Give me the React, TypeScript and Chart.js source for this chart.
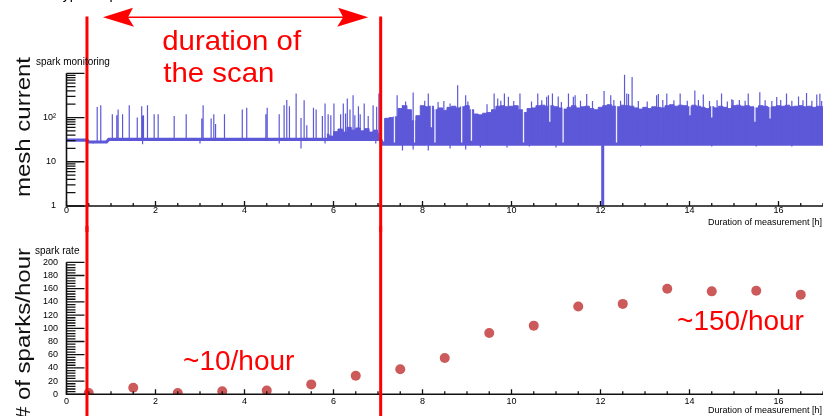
import { useEffect, useRef } from 'react';
import { Chart, registerables } from 'chart.js';

Chart.register(...registerables);

const FONT = '"Liberation Sans", Arial, Helvetica, sans-serif';
const TRACE_BLUE = 'rgb(92,88,216)';
const RATE_RED = 'rgb(204,90,90)';
const MARK_RED = '#ff0000';

// Shared time axis (hours)
const timeMin = 0;
const timeMax = 17;
const timeTicks = [0, 2, 4, 6, 8, 10, 12, 14, 16];
const timeTickLabels = ['0', '2', '4', '6', '8', '10', '12', '14', '16'];
const timeTitle = 'Duration of measurement [h]';

// Mesh current axis (log)
const currentTicks = [1, 10, 100];
const currentTickLabels = ['1', '10', '10²'];

// Spark rate axis
const rateTicks = [0, 20, 40, 60, 80, 100, 120, 140, 160, 180, 200];
const rateTickLabels = ['0', '20', '40', '60', '80', '100', '120', '140', '160', '180', '200'];

// Scan window (hours)
const scanStart = 0.46;
const scanEnd = 7.06;

// Spark rate, one point per hour
const rateHours = [0.5, 1.5, 2.5, 3.5, 4.5, 5.5, 6.5, 7.5, 8.5, 9.5, 10.5, 11.5, 12.5, 13.5, 14.5, 15.5, 16.5];
const rateValues = [2, 10, 2, 4.5, 5.6, 15, 28, 38, 55, 93, 104, 133, 137, 160, 156, 157, 151];

// Mesh current resting level
const baseTimes = [0, 0.46, 0.5, 0.9, 0.95, 7.06, 7.1, 17];
const baseValues = [31, 31, 28, 28, 32, 32, 25, 25];

// Sparks during the scan: [hour, peak current]
const scanSpikes = [
  [0.69, 174], [0.77, 190], [1.03, 118], [1.13, 113], [1.16, 152], [1.26, 118], [1.41, 190],
  [1.59, 100], [1.69, 180], [1.7, 105], [1.71, 110], [1.72, 104], [1.73, 113], [1.82, 190],
  [1.97, 118], [2.06, 118], [2.42, 108], [2.69, 118], [3.04, 95], [3.07, 190], [3.25, 95],
  [3.31, 118], [3.35, 71], [3.55, 118], [3.95, 152], [4.05, 166], [4.48, 118], [4.51, 166],
  [4.78, 118], [4.89, 190], [4.95, 250], [5.01, 180], [5.16, 350], [5.27, 98], [5.34, 246],
  [5.4, 67], [5.55, 166], [5.61, 152], [5.75, 108], [5.81, 208], [5.88, 118], [5.94, 113],
  [6.01, 208], [6.16, 118], [6.22, 208], [6.27, 124], [6.31, 270], [6.37, 152], [6.44, 318],
  [6.48, 113], [6.56, 180], [6.6, 118], [6.69, 208], [6.78, 108], [6.89, 190], [6.97, 175],
  [7.02, 350],
];
const scanDips = [[0.6, 26], [1.71, 25], [3.0, 26], [4.78, 26], [5.27, 20], [5.81, 26], [6.95, 26]];

// Dense spark cluster at the end of the scan
const scanClusterTimes = [5.85, 5.95, 6.05, 6.15, 6.25, 6.35, 6.45, 6.55, 6.65, 6.75, 6.85, 6.95, 7.03];
const scanClusterLevels = [42, 38, 48, 55, 47, 60, 52, 58, 50, 56, 47, 52, 44];

// After the scan: solid band level every 0.1 h from 7.1 h
const burstStart = 7.1;
const burstStep = 0.1;
const burstLevels = [
  28, 96, 100, 104, 160, 185, 150, 85, 110, 185,
  175, 180, 150, 165, 145, 170, 180, 165, 175, 185,
  150, 120, 115, 125, 130, 150, 180, 185, 175, 180,
  185, 150, 130, 160, 165, 185, 190, 180, 185, 175,
  165, 155, 170, 185, 165, 175, 180, 160, 150, 170,
  185, 195, 180, 175, 190, 185, 180, 165, 155, 170,
  160, 175, 170, 165, 185, 195, 180, 190, 185, 175,
  190, 180, 170, 160, 175, 165, 180, 170, 160, 185,
  190, 180, 185, 175, 165, 185, 180, 170, 175, 185,
  180, 190, 175, 180, 185, 175, 180, 170, 180, 175,
];
const burstSpikes = [
  [7.43, 318], [7.55, 190], [7.62, 230], [7.79, 370], [8.05, 240], [8.13, 350], [8.35, 225],
  [8.48, 235], [8.62, 208], [8.79, 537], [8.97, 318], [9.02, 230], [9.45, 200], [9.61, 350],
  [9.69, 270], [9.76, 240], [9.84, 350], [9.93, 295], [10.05, 235], [10.19, 350], [10.45, 230],
  [10.59, 350], [10.68, 245], [10.79, 294], [10.83, 318], [10.92, 350], [11.05, 300], [11.12, 225],
  [11.28, 350], [11.39, 295], [11.43, 320], [11.55, 240], [11.69, 340], [11.82, 235], [12.08, 400],
  [12.23, 320], [12.3, 250], [12.45, 240], [12.54, 930], [12.59, 350], [12.63, 340], [12.71, 820],
  [12.85, 235], [13.05, 230], [13.26, 318], [13.3, 340], [13.4, 250], [13.49, 350], [13.65, 245],
  [13.79, 350], [13.95, 240], [14.12, 410], [14.2, 250], [14.31, 330], [14.45, 235], [14.62, 245],
  [14.72, 350], [14.85, 230], [14.95, 260], [14.98, 250], [15.12, 250], [15.25, 240], [15.32, 350],
  [15.58, 375], [15.7, 245], [15.85, 235], [15.96, 290], [16.05, 250], [16.18, 350], [16.3, 240],
  [16.45, 300], [16.55, 245], [16.63, 360], [16.75, 240], [16.86, 330], [16.93, 345], [16.97, 235],
];
const burstDips = [
  [7.55, 18], [7.79, 19], [8.13, 18], [8.62, 20], [8.97, 19], [9.3, 21], [9.9, 21],
  [10.4, 22], [11.0, 21], [12.9, 22], [14.5, 22], [15.5, 22], [16.3, 22],
];
// Quiet moments inside the band: [hour, lowest current]
const burstGaps = [
  [7.37, 26], [7.82, 26], [8.2, 60], [8.28, 26], [8.88, 26], [9.1, 30], [10.27, 26],
  [10.86, 80], [11.16, 26], [12.36, 26], [14.01, 113], [14.5, 100], [15.47, 80], [15.81, 95],
];
// Supply drop-out
const dropTime = 12.05;
const dropValue = 1;

function baseAt(t: number) {
  let v = baseValues[0];
  for (let i = 0; i < baseTimes.length; i++) if (baseTimes[i] <= t) v = baseValues[i];
  return v;
}

function verticalSegments(list: number[][], from: (t: number) => number) {
  const pts: { x: number; y: number | null }[] = [];
  for (const [t, v] of list) {
    pts.push({ x: t, y: from(t) }, { x: t, y: v }, { x: t, y: null });
  }
  return pts;
}

type FrameOpts = {
  yMajor: number[];
  yLabels: string[];
  yMinor: number[];
  labelRight: number;
  xLabelOffset: number;
};

function drawFrame(chart: any, o: FrameOpts) {
  const { ctx, chartArea: a, scales } = chart;
  const xs = scales.x;
  const ys = scales.y;
  ctx.save();
  ctx.strokeStyle = '#111';
  ctx.lineWidth = 1.6;
  ctx.beginPath();
  ctx.moveTo(a.left, a.top);
  ctx.lineTo(a.left, a.bottom);
  ctx.lineTo(chart.width, a.bottom);
  ctx.stroke();

  ctx.lineWidth = 1.3;
  ctx.beginPath();
  for (let k = 0; k <= (timeMax - timeMin) * 2; k++) {
    const v = timeMin + k * 0.5;
    const px = xs.getPixelForValue(v);
    const len = timeTicks.includes(v) ? 5 : 3;
    ctx.moveTo(px, a.bottom);
    ctx.lineTo(px, a.bottom - len);
  }
  for (const v of o.yMinor) {
    const py = ys.getPixelForValue(v);
    ctx.moveTo(a.left, py);
    ctx.lineTo(a.left + 9, py);
  }
  for (const v of o.yMajor) {
    const py = ys.getPixelForValue(v);
    ctx.moveTo(a.left, py);
    ctx.lineTo(a.left + 18, py);
  }
  ctx.stroke();

  ctx.fillStyle = '#000';
  ctx.font = `9px ${FONT}`;
  ctx.textAlign = 'center';
  ctx.textBaseline = 'middle';
  timeTicks.forEach((v, i) => ctx.fillText(timeTickLabels[i], xs.getPixelForValue(v), a.bottom + o.xLabelOffset));
  ctx.textAlign = 'right';
  o.yMajor.forEach((v, i) => {
    if (o.yLabels[i]) ctx.fillText(o.yLabels[i], o.labelRight, ys.getPixelForValue(v));
  });
  ctx.textBaseline = 'alphabetic';
  ctx.fillText(timeTitle, chart.width - 1, a.bottom + 19);
  ctx.restore();
}

function drawScanLines(chart: any, y0: number, y1: number) {
  const { ctx, scales } = chart;
  ctx.save();
  ctx.strokeStyle = MARK_RED;
  ctx.lineWidth = 3;
  ctx.beginPath();
  for (const t of [scanStart, scanEnd]) {
    const px = scales.x.getPixelForValue(t);
    ctx.moveTo(px, y0);
    ctx.lineTo(px, y1);
  }
  ctx.stroke();
  ctx.restore();
}

function drawVerticalTitle(ctx: CanvasRenderingContext2D, text: string, x: number, y: number, align: CanvasTextAlign) {
  ctx.save();
  ctx.translate(x, y);
  ctx.rotate(-Math.PI / 2);
  ctx.scale(1.2, 1);
  ctx.font = `20px ${FONT}`;
  ctx.fillStyle = '#111';
  ctx.textAlign = align;
  ctx.textBaseline = 'alphabetic';
  ctx.fillText(text, 0, 0);
  ctx.restore();
}

function drawArrowHead(ctx: CanvasRenderingContext2D, tip: number, y: number, dir: number) {
  ctx.beginPath();
  ctx.moveTo(tip, y);
  ctx.lineTo(tip + dir * 30, y - 9.5);
  ctx.lineTo(tip + dir * 25, y);
  ctx.lineTo(tip + dir * 31, y + 9.5);
  ctx.closePath();
  ctx.fill();
}

const topFrame = {
  id: 'topFrame',
  afterDatasetsDraw(chart: any) {
    const yMinor: number[] = [];
    for (const d of [1, 10, 100]) for (let k = 2; k <= 9; k++) yMinor.push(d * k);
    drawFrame(chart, {
      yMajor: [...currentTicks, 1000],
      yLabels: currentTickLabels,
      yMinor,
      labelRight: 56,
      xLabelOffset: 4.5,
    });
  },
  afterDraw(chart: any) {
    const { ctx, scales } = chart;
    const arrowY = 17.3;
    drawScanLines(chart, 16.5, chart.height);
    const left = scales.x.getPixelForValue(scanStart) + 16;
    const right = scales.x.getPixelForValue(scanEnd) - 12.5;
    ctx.save();
    ctx.strokeStyle = MARK_RED;
    ctx.fillStyle = MARK_RED;
    ctx.lineWidth = 1.5;
    ctx.beginPath();
    ctx.moveTo(left + 10, arrowY);
    ctx.lineTo(right - 10, arrowY);
    ctx.stroke();
    drawArrowHead(ctx, left, arrowY, 1);
    drawArrowHead(ctx, right, arrowY, -1);

    ctx.font = `28px ${FONT}`;
    ctx.textAlign = 'left';
    ctx.textBaseline = 'alphabetic';
    ctx.save();
    ctx.translate(scales.x.getPixelForValue(2.15), 0);
    ctx.scale(1.05, 1);
    ctx.fillText('duration of', 0, 50);
    ctx.fillText('the scan', 1, 81.7);
    ctx.restore();

    // page heading sits above the top edge; only its lowest strokes show
    ctx.fillStyle = '#000';
    ctx.font = `14px ${FONT}`;
    ctx.fillText('Typical spark', 55, -1);
    ctx.font = `10px ${FONT}`;
    ctx.fillText('spark monitoring', 36, 64.5);
    ctx.restore();
    drawVerticalTitle(ctx, 'mesh current', 29.5, 127, 'center');
  },
};

const bottomFrame = {
  id: 'bottomFrame',
  afterDatasetsDraw(chart: any) {
    const yMinor: number[] = [];
    for (let v = 0; v <= 200; v += 4) if (v % 20 !== 0) yMinor.push(v);
    drawFrame(chart, {
      yMajor: rateTicks,
      yLabels: rateTickLabels,
      yMinor,
      labelRight: 58,
      xLabelOffset: 7.4,
    });
  },
  afterDraw(chart: any) {
    const { ctx, scales } = chart;
    drawScanLines(chart, 0, chart.height);
    ctx.save();
    ctx.fillStyle = MARK_RED;
    ctx.font = `28px ${FONT}`;
    ctx.textAlign = 'left';
    ctx.textBaseline = 'alphabetic';
    ctx.fillText('~10/hour', scales.x.getPixelForValue(2.62), scales.y.getPixelForValue(36.8));
    ctx.fillText('~150/hour', scales.x.getPixelForValue(13.72), scales.y.getPixelForValue(97.4));
    ctx.fillStyle = '#000';
    ctx.font = `10px ${FONT}`;
    ctx.fillText('spark rate', 35, 27.5);
    ctx.restore();
    drawVerticalTitle(ctx, '# of sparks/hour', 29.5, 22, 'right');
  },
};

const lineBase = {
  type: 'line' as const,
  pointRadius: 0,
  pointHoverRadius: 0,
  tension: 0,
  spanGaps: false,
};

export default function App() {
  const topRef = useRef<HTMLCanvasElement>(null);
  const bottomRef = useRef<HTMLCanvasElement>(null);

  useEffect(() => {
    const baseline = baseTimes.map((t, i) => ({ x: t, y: baseValues[i] }));
    const spikes = [
      ...verticalSegments([...scanSpikes, ...scanDips], baseAt),
      ...verticalSegments([...burstSpikes, ...burstDips], baseAt),
    ];
    const gaps = verticalSegments(burstGaps, () => 1000);
    const burst = burstLevels.map((v, i) => ({ x: Math.round((burstStart + i * burstStep) * 100) / 100, y: v }));
    const cluster = scanClusterTimes.map((t, i) => ({ x: t, y: scanClusterLevels[i] }));
    const drop = [{ x: dropTime, y: baseAt(dropTime) }, { x: dropTime, y: dropValue }];

    const top = new Chart(topRef.current as HTMLCanvasElement, {
      type: 'line',
      data: {
        datasets: [
          { ...lineBase, label: 'level', data: baseline, borderColor: TRACE_BLUE, borderWidth: 3.2, order: 0, fill: false },
          { ...lineBase, label: 'drop', data: drop, borderColor: TRACE_BLUE, borderWidth: 3, order: 1, fill: false },
          { ...lineBase, label: 'sparks', data: spikes, borderColor: TRACE_BLUE, borderWidth: 1.2, order: 2, fill: false },
          { ...lineBase, label: 'quiet', data: gaps, borderColor: 'rgba(255,255,255,0.9)', borderWidth: 1.3, order: 3, fill: false },
          { ...lineBase, label: 'band', data: burst, stepped: 'middle', borderColor: TRACE_BLUE, backgroundColor: TRACE_BLUE, borderWidth: 1, order: 4, fill: { value: 25 } },
          { ...lineBase, label: 'cluster', data: cluster, stepped: 'middle', borderColor: TRACE_BLUE, backgroundColor: TRACE_BLUE, borderWidth: 1, order: 5, fill: { value: 32 } },
        ] as any,
      },
      options: {
        responsive: false,
        animation: false,
        devicePixelRatio: 1,
        layout: { autoPadding: false, padding: { left: 66.5, top: 73.3, right: 0, bottom: 26 } },
        scales: {
          x: { type: 'linear', min: timeMin, max: timeMax, display: false },
          y: { type: 'logarithmic', min: 1, max: 1000, display: false },
        },
        plugins: { legend: { display: false }, tooltip: { enabled: false } },
        events: [],
      },
      plugins: [topFrame],
    });

    const bottom = new Chart(bottomRef.current as HTMLCanvasElement, {
      type: 'scatter',
      data: {
        datasets: [
          {
            label: 'spark rate',
            data: rateHours.map((h, i) => ({ x: h, y: rateValues[i] })),
            pointRadius: 5,
            pointHoverRadius: 5,
            pointBackgroundColor: RATE_RED,
            pointBorderColor: RATE_RED,
            pointBorderWidth: 0,
          },
        ],
      },
      options: {
        responsive: false,
        animation: false,
        devicePixelRatio: 1,
        layout: { autoPadding: false, padding: { left: 66.5, top: 36.3, right: 0, bottom: 21.7 } },
        scales: {
          x: { type: 'linear', min: timeMin, max: timeMax, display: false },
          y: { type: 'linear', min: 0, max: 200, display: false },
        },
        plugins: { legend: { display: false }, tooltip: { enabled: false } },
        events: [],
      },
      plugins: [bottomFrame],
    });

    return () => {
      top.destroy();
      bottom.destroy();
    };
  }, []);

  return (
    <div style={{ position: 'absolute', left: 0, top: 0, width: 823, height: 416, background: '#fff', overflow: 'hidden' }}>
      <canvas ref={bottomRef} width={823} height={190} style={{ position: 'absolute', left: 0, top: 226 }} />
      <canvas ref={topRef} width={823} height={232} style={{ position: 'absolute', left: 0, top: 0 }} />
    </div>
  );
}
